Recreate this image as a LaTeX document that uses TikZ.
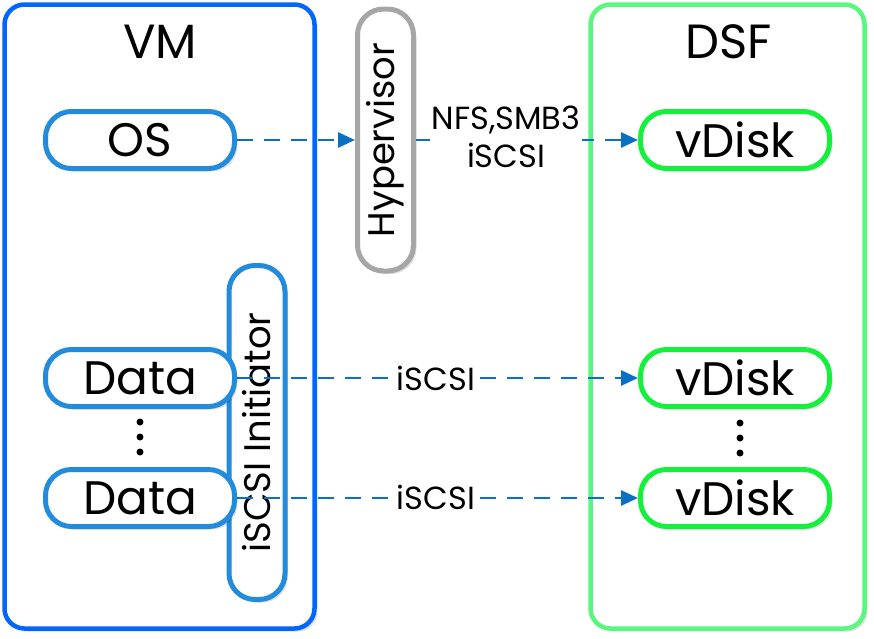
\documentclass[tikz,border=0pt]{standalone}
\usepackage{fontspec}
\setmainfont{Poppins}
\usetikzlibrary{arrows.meta,shadows}
\definecolor{vmblue}{HTML}{0066FF}
\definecolor{nodeblue}{HTML}{238BDB}
\definecolor{hypgray}{HTML}{A6A6A6}
\definecolor{dsfgreen}{HTML}{5AF77E}
\definecolor{vdgreen}{HTML}{14F03C}
\definecolor{arrblue}{HTML}{0A70C6}
\tikzset{
  shad/.style={drop shadow={shadow xshift=3pt,shadow yshift=-3pt,opacity=0.13,fill=black}},
  bigbox/.style={draw,line width=4.5pt,rounded corners=20pt,shad,fill=white},
  pill/.style={draw,line width=5pt,rounded corners=26pt,fill=white,shad,
     minimum width=189pt,minimum height=57pt,inner sep=0pt,
     font=\fontsize{47}{50}\selectfont},
  bluepill/.style={pill,draw=nodeblue},
  greenpill/.style={pill,draw=vdgreen},
  vpill/.style={line width=5pt,rounded corners=26pt,
     minimum height=56pt,inner sep=0pt,rotate=90,
     font=\fontsize{37}{40}\selectfont},
  title/.style={font=\fontsize{48}{52}\selectfont,inner sep=0pt},
  arr/.style={draw=arrblue,line width=2.8pt,dash pattern=on 16pt off 11pt,
     -{Triangle[length=17pt,width=15pt,fill=arrblue]}},
  lbl/.style={fill=white,inner sep=2pt,align=center,
     font=\fontsize{32}{38}\selectfont},
  dotm/.style={circle,fill=black,inner sep=0pt,minimum size=7pt}
}
\begin{document}
\begin{tikzpicture}[x=1pt,y=-1pt]
\useasboundingbox (0,0) rectangle (874,638);
% outer boxes
\node[bigbox,draw=vmblue,minimum width=310pt,minimum height=624pt] (vm) at (159.5,316.5) {};
\node[bigbox,draw=dsfgreen,minimum width=274pt,minimum height=624pt] (dsf) at (727.5,316.5) {};
\node[title] (vmt) at (160,42) {VM};
\node[title] (dsft) at (729,42) {DSF};
% VM side
\node[vpill,draw=nodeblue,fill=white,shad,minimum width=334pt] (ini) at (257,432.5) {};
\node[bluepill] (os) at (140,140) {OS};
\node[bluepill] (d1) at (140,378) {Data};
\node[bluepill] (d2) at (140,498) {Data};
\node[dotm] (da) at (140,422) {};
\node[dotm] (db) at (140,437) {};
\node[dotm] (dc) at (140,452) {};
\node[vpill,minimum width=334pt] (initxt) at (257,432.5) {iSCSI Initiator};
% hypervisor
\node[vpill,draw=hypgray,fill=white,shad,minimum width=262pt] (hyp) at (385.5,140) {Hypervisor};
% DSF side
\node[greenpill] (v1) at (735,140) {vDisk};
\node[greenpill] (v2) at (735,378) {vDisk};
\node[greenpill] (v3) at (735,498) {vDisk};
\node[dotm] (va) at (740,423) {};
\node[dotm] (vb) at (740,438) {};
\node[dotm] (vc) at (740,453) {};
% connectors
\draw[arr] (os) -- (hyp);
\draw[arr] (hyp) -- (v1);
\draw[arr] (d1) -- (v2);
\draw[arr] (d2) -- (v3);
% labels
\node[lbl] (l0) at (506,137) {NFS,SMB3\\iSCSI};
\node[lbl] (l1) at (436,378) {iSCSI};
\node[lbl] (l2) at (436,497) {iSCSI};
\end{tikzpicture}
\end{document}
